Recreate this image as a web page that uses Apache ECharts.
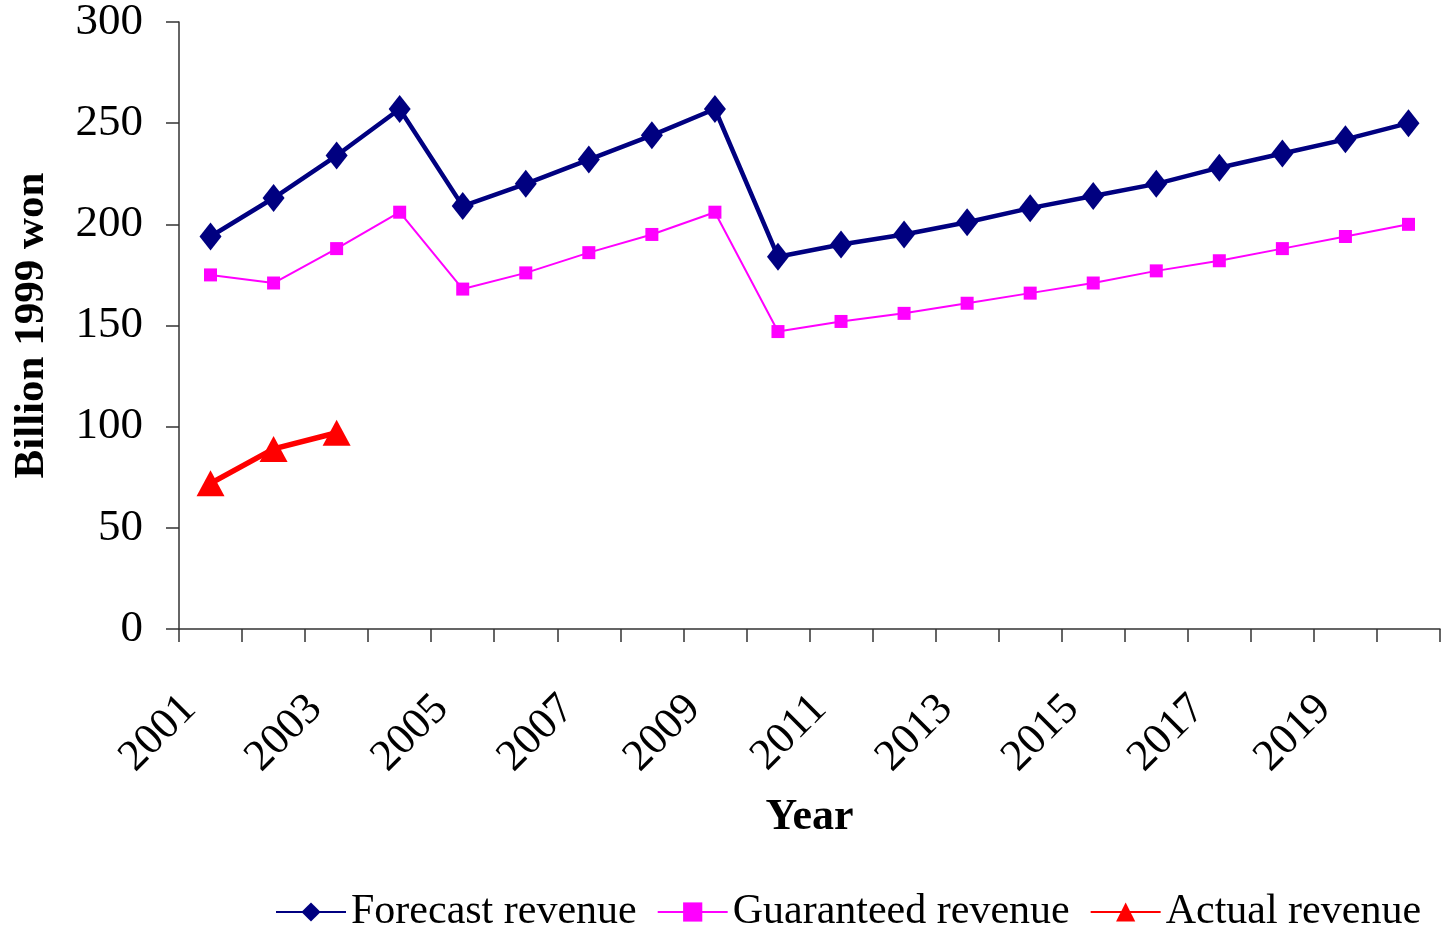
<!DOCTYPE html>
<html>
<head>
<meta charset="utf-8">
<script src="https://cdn.jsdelivr.net/npm/echarts@6/dist/echarts.min.js"></script>
<style>
html,body{margin:0;padding:0;background:#fff;}
#chart{width:1442px;height:932px;}
</style>
</head>
<body>
<div id="chart"></div>
<script>
const years = ['2001','2002','2003','2004','2005','2006','2007','2008','2009','2010','2011','2012','2013','2014','2015','2016','2017','2018','2019','2020'];
const forecastRevenue = [194,213,234,257,209,220,232,244,257,184,190,195,201,208,214,220,228,235,242,250];
const guaranteedRevenue = [175,171,188,206,168,176,186,195,206,147,152,156,161,166,171,177,182,188,194,200];
const actualRevenue = [72,89,97];
const yTicks = [0,50,100,150,200,250,300];

const font = 'Liberation Serif';
const chart = echarts.init(document.getElementById('chart'), null, {renderer:'canvas'});
chart.setOption({
  animation:false,
  backgroundColor:'#fff',
  grid:{left:179, right:2, top:22, bottom:303, containLabel:false, outerBoundsMode:'none'},
  legend:{
    top:886, left:270,
    itemWidth:70, itemHeight:24, itemGap:20,
    textStyle:{fontFamily:font, fontSize:42, color:'#000'},
    data:['Forecast revenue','Guaranteed revenue','Actual revenue']
  },
  xAxis:{
    type:'category', data:years, boundaryGap:true,
    name:'Year', nameLocation:'middle', nameGap:167,
    nameTextStyle:{fontFamily:font, fontSize:44, fontWeight:'bold', color:'#000'},
    axisLine:{show:true, lineStyle:{color:'#333', width:1.5}},
    axisTick:{show:true, interval:0, length:13, lineStyle:{color:'#333', width:1.5}},
    axisLabel:{interval:1, rotate:45, margin:52, padding:[0,30,0,0], fontFamily:font, fontSize:44, color:'#000'}
  },
  yAxis:{
    type:'value', min:yTicks[0], max:yTicks[yTicks.length-1], interval:50,
    name:'Billion 1999 won', nameLocation:'middle', nameGap:126, nameRotate:90,
    nameTextStyle:{fontFamily:font, fontSize:43, fontWeight:'bold', color:'#000'},
    axisLine:{show:true, lineStyle:{color:'#333', width:1.5}},
    axisTick:{show:true, length:13, lineStyle:{color:'#333', width:1.5}},
    splitLine:{show:false},
    axisLabel:{margin:36, fontFamily:font, fontSize:45, color:'#000'}
  },
  series:[
    {name:'Forecast revenue', type:'line', data:forecastRevenue,
     symbol:'diamond', symbolSize:[22,28], color:'#000080',
     lineStyle:{width:4.5, color:'#000080'}, itemStyle:{color:'#000080'}},
    {name:'Guaranteed revenue', type:'line', data:guaranteedRevenue,
     symbol:'rect', symbolSize:13, color:'#FF00FF',
     lineStyle:{width:2, color:'#FF00FF'}, itemStyle:{color:'#FF00FF'}},
    {name:'Actual revenue', type:'line', data:actualRevenue,
     symbol:'triangle', symbolSize:[28,26], color:'#FF0000',
     lineStyle:{width:5.5, color:'#FF0000'}, itemStyle:{color:'#FF0000'}}
  ]
});
</script>
</body>
</html>
